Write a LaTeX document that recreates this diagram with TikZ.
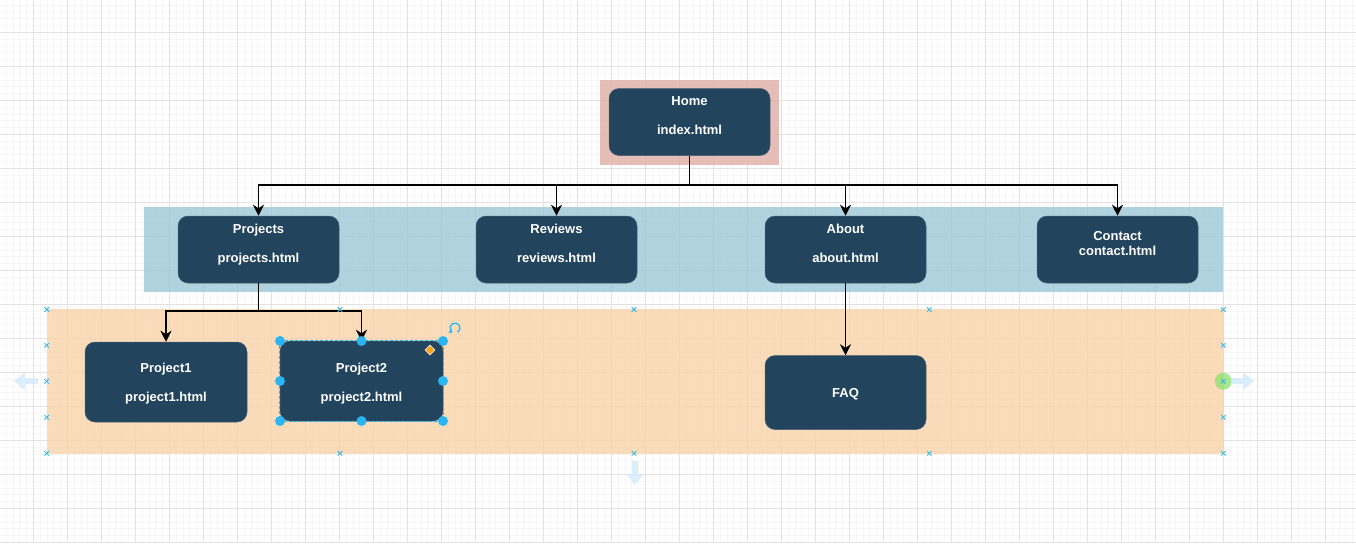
\documentclass[tikz,border=0pt]{standalone}
\usepackage{fontspec}
\setmainfont{Liberation Sans}
\usetikzlibrary{arrows.meta}
\definecolor{navy}{HTML}{23445D}
\definecolor{pinkz}{RGB}{224,174,167}
\definecolor{bluez}{RGB}{158,200,216}
\definecolor{orangez}{RGB}{249,212,169}
\definecolor{hblue}{RGB}{41,182,242}
\definecolor{ghost}{RGB}{210,234,250}
\definecolor{greenh}{RGB}{140,225,110}
\definecolor{majorg}{RGB}{226,226,226}
\definecolor{minorg}{RGB}{246,246,246}
\definecolor{diam}{RGB}{245,165,30}
\tikzset{
  zone/.style={draw=none, fill opacity=0.8, inner sep=0pt, anchor=north west},
  box/.style={draw=navy!85!white, line width=0.5pt, fill=navy, rounded corners=10pt, inner sep=0pt, minimum width=161pt, minimum height=67pt},
  txt/.style={text=white, font=\fontsize{13}{15}\selectfont\bfseries, anchor=base, inner sep=0pt},
  conn/.style={line width=1.8pt, -{Stealth[length=11pt,width=11pt,inset=3.5pt]}},
  handle/.style={fill=hblue, draw=none, circle, minimum size=10pt, inner sep=0pt},
  xmark/.style={hblue, line width=0.8pt},
}
\begin{document}
\begin{tikzpicture}[x=1pt,y=-1pt]
\useasboundingbox (0,0) rectangle (1356,543);
\fill[white] (0,0) rectangle (1356,543);
% grid
\foreach \i in {0,...,200} { \draw[minorg, line width=0.6pt] ({-0.7+6.8*\i},0) -- ++(0,543); }
\foreach \i in {0,...,80} { \draw[minorg, line width=0.6pt] (0,{-1.7+6.8*\i}) -- ++(1356,0); }
\foreach \i in {0,...,39} { \draw[majorg, line width=0.8pt] ({33.3+34*\i},0) -- ++(0,543); }
\foreach \i in {0,...,15} { \draw[majorg, line width=0.8pt] (0,{32.3+34*\i}) -- ++(1356,0); }
% zones
\node[zone, fill=pinkz, minimum width=179pt, minimum height=85pt] (homezone) at (600,80) {};
\node[zone, fill=bluez, minimum width=1079pt, minimum height=85pt] (pagezone) at (144,207) {};
\node[zone, fill=orangez, minimum width=1177pt, minimum height=145pt] (subzone) at (46.7,309) {};
% nodes
\node[box] (home) at (689.5,122) {};
\node[txt] (hometitle) at (689.5,105.5) {Home};
\node[txt] (homefile) at (689.5,134.5) {index.html};

\node[box] (projects) at (258.5,249.5) {};
\node[txt] (projtitle) at (258.5,233.5) {Projects};
\node[txt] (projfile) at (258.5,262.5) {projects.html};

\node[box] (reviews) at (556.5,249.5) {};
\node[txt] (revtitle) at (556.5,233.5) {Reviews};
\node[txt] (revfile) at (556.5,262.5) {reviews.html};

\node[box] (about) at (845.5,249.5) {};
\node[txt] (abtitle) at (845.5,233.5) {About};
\node[txt] (abfile) at (845.5,262.5) {about.html};

\node[box] (contact) at (1117.5,249.5) {};
\node[txt] (cotitle) at (1117.5,240.5) {Contact};
\node[txt] (cofile) at (1117.5,255.5) {contact.html};

\node[box, minimum width=162pt, minimum height=80pt] (p1) at (166,382) {};
\node[txt] (p1title) at (166,372.5) {Project1};
\node[txt] (p1file) at (166,401.5) {project1.html};

\node[box, minimum width=163pt, minimum height=80pt] (p2) at (361.5,381) {};
\node[txt] (p2title) at (361.5,372.5) {Project2};
\node[txt] (p2file) at (361.5,401.5) {project2.html};

\node[box, minimum width=161pt, minimum height=74pt] (faq) at (845.5,392.5) {};
\node[txt] (faqtitle) at (845.5,397.5) {FAQ};

% connectors
\draw[conn] (home.south) -- ++(0,29) -| (projects.north);
\draw[conn] (home.south) -- ++(0,29) -| (reviews.north);
\draw[conn] (home.south) -- ++(0,29) -| (about.north);
\draw[conn] (home.south) -- ++(0,29) -| (contact.north);
\draw[conn] (projects.south) -- ++(0,28) -| (p1.north);
\draw[conn] (projects.south) -- ++(0,28) -| (p2.north);
\draw[conn] (about.south) -- (faq.north);

% selection decorations
\draw[hblue, line width=0.7pt, dash pattern=on 3pt off 2pt] (p2.north west) rectangle (p2.south east);
\foreach \p [count=\k] in {(280,341),(361.5,341),(443,341),(280,381),(443,381),(280,421),(361.5,421),(443,421)} {
  \node[handle] (h\k) at \p {};
}
\node[fill=diam, draw=white, line width=0.6pt, minimum size=7pt, inner sep=0pt, rotate=45] (diamond) at (430,350) {};
\draw[hblue, line width=1.3pt, -{Triangle[length=3pt,width=5pt]}] (455,328) ++(-60:5pt) arc[start angle=-60, end angle=240, radius=5pt];
\foreach \p in {(46.7,309.5),(46.7,345.3),(46.7,381.3),(46.7,417.3),(46.7,453.3),
                (340,309.5),(634,309.5),(929.3,309.5),(340,453.3),(634,453.3),(929.3,453.3),
                (1223.3,309.5),(1223.3,345.3),(1223.3,417.3),(1223.3,453.3)} {
  \draw[xmark] \p ++(-2.3,-2.3) -- ++(4.6,4.6) \p ++(-2.3,2.3) -- ++(4.6,-4.6);
}
\fill[greenh, opacity=0.75] (1223.3,381.3) circle[radius=8.5pt];
\draw[xmark] (1223.3,381.3) ++(-2.3,-2.3) -- ++(4.6,4.6) (1223.3,381.3) ++(-2.3,2.3) -- ++(4.6,-4.6);
% ghost arrows
\fill[ghost, opacity=0.8] (14,381) -- (25,372) -- (25,378) -- (38,378) -- (38,384) -- (25,384) -- (25,390) -- cycle;
\fill[ghost, opacity=0.8] (1254,381) -- (1243,372) -- (1243,378) -- (1231,378) -- (1231,384) -- (1243,384) -- (1243,390) -- cycle;
\fill[ghost, opacity=0.8] (635,485) -- (626,474) -- (632,474) -- (632,461) -- (638,461) -- (638,474) -- (644,474) -- cycle;
\end{tikzpicture}
\end{document}
